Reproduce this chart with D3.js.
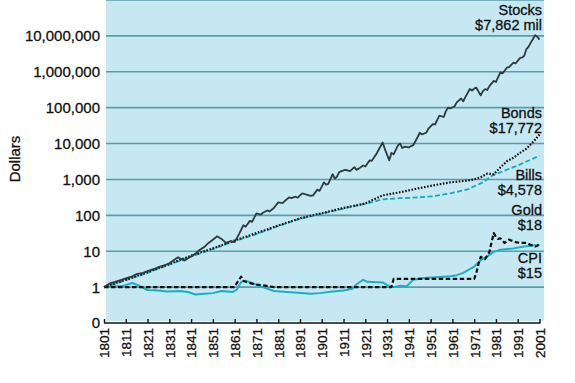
<!DOCTYPE html>
<html>
<head>
<meta charset="utf-8">
<script src="https://cdn.jsdelivr.net/npm/d3@7"></script>
<style>
  html, body { margin: 0; padding: 0; background: #fff; }
  svg { display: block; font-family: "Liberation Sans", Arial, Helvetica, sans-serif; }
</style>
</head>
<body>
<svg id="chart" width="575" height="383"></svg>
<script>
// ---- data (value of $1 invested in 1801) ----
const yearTicks = [1801,1811,1821,1831,1841,1851,1861,1871,1881,1891,1901,1911,1921,1931,1941,1951,1961,1971,1981,1991,2001];
const valueTicks = [0.1, 1, 10, 100, 1000, 10000, 100000, 1000000, 10000000, 100000000];
const valueTickLabels = ["0", "1", "10", "100", "1,000", "10,000", "100,000", "1,000,000", "10,000,000", ""];

const stocks = [
  [1801,1],[1804,1.3],[1806,1.4],[1809,1.6],[1811,1.75],[1814,2.0],[1816,2.3],[1819,2.5],[1821,2.8],
  [1824,3.2],[1826,3.6],[1829,4.1],[1831,4.6],[1833,5.6],[1835,6.8],[1837,5.8],[1838,5.5],[1841,7.2],
  [1843,8.5],[1845,11],[1847,13],[1849,17],[1851,21],[1853,26],[1855,22],[1857,17],[1859,19],[1861,18],
  [1863,30],[1865,53],[1866,48],[1868,70],[1869,66],[1871,113],[1873,105],[1874,118],[1876,137],[1877,128],
  [1879,160],[1881,230],[1883,220],[1884,250],[1886,316],[1887,300],[1889,330],[1890,310],[1892,410],
  [1894,380],[1896,350],[1897,360],[1899,520],[1900,480],[1902,830],[1903,720],[1904,750],[1906,1400],
  [1907,1050],[1908,1200],[1909,1600],[1911,1780],[1912,1850],[1914,1700],[1916,2200],[1917,1850],
  [1918,2000],[1920,2450],[1921,2300],[1923,3400],[1924,3300],[1926,5000],[1927,6500],[1929,10700],
  [1930,7000],[1932,3400],[1933,5500],[1934,5000],[1936,8900],[1937,10000],[1938,7500],[1939,8200],
  [1941,7800],[1942,8500],[1943,9000],[1945,15000],[1946,20000],[1947,18000],[1949,20000],[1950,26000],
  [1952,35000],[1953,34000],[1955,60000],[1957,55000],[1958,80000],[1959,100000],[1960,95000],
  [1962,110000],[1963,140000],[1965,180000],[1966,150000],[1967,200000],[1969,330000],[1970,300000],
  [1971,340000],[1972,360000],[1974,220000],[1975,290000],[1976,330000],[1977,310000],[1978,400000],
  [1980,560000],[1981,520000],[1983,960000],[1984,900000],[1986,1300000],[1987,1350000],[1989,1800000],
  [1990,1700000],[1992,2400000],[1993,2500000],[1994,2800000],[1995,4300000],[1996,5000000],
  [1997,6500000],[1998,8200000],[1999,10500000],[2000,9500000],[2001,7862000]
];
const bonds = [
  [1801,1],[1811,1.6],[1821,2.6],[1831,4.4],[1841,7.5],[1851,12],[1861,20],[1871,32],[1881,52],
  [1891,83],[1901,115],[1911,160],[1921,215],[1929,360],[1937,440],[1945,560],[1952,680],[1960,830],
  [1968,930],[1971,1000],[1974,1150],[1977,1450],[1980,1400],[1983,2150],[1986,3200],[1989,4000],
  [1992,5500],[1995,7200],[1998,11000],[2001,17772]
];
const bills = [
  [1801,1],[1811,1.55],[1821,2.5],[1831,4.2],[1841,7.1],[1851,11.5],[1861,19],[1871,30],[1881,50],
  [1891,80],[1901,110],[1911,155],[1922,215],[1929,280],[1937,300],[1945,315],[1952,340],[1960,410],
  [1968,530],[1975,830],[1979,1250],[1983,1580],[1991,2450],[1998,3800],[2001,4578]
];
const gold = [
  [1801,1],[1861,1],[1862,1.3],[1864,1.95],[1865,1.5],[1867,1.35],[1870,1.2],[1875,1.1],[1879,1],
  [1933,1],[1934,1.69],[1971,1.69],[1972,2.5],[1973,4.5],[1974,7],[1976,6],[1977,7.5],[1978,9.5],
  [1979,18],[1980,32],[1981,25],[1982,22],[1983,23],[1985,17],[1987,21],[1988,20],[1990,18],
  [1992,17],[1995,17],[1997,15],[1999,13.5],[2000,14],[2001,17]
];
const cpi = [
  [1801,1],[1805,1.05],[1809,1.05],[1814,1.3],[1817,1.1],[1821,0.83],[1826,0.8],[1830,0.75],
  [1836,0.78],[1840,0.72],[1843,0.62],[1847,0.65],[1851,0.68],[1855,0.78],[1860,0.73],[1862,0.85],
  [1864,1.4],[1866,1.5],[1869,1.3],[1873,1.05],[1879,0.78],[1885,0.73],[1890,0.7],[1896,0.65],
  [1900,0.68],[1906,0.75],[1911,0.8],[1915,0.9],[1917,1.2],[1920,1.6],[1922,1.4],[1929,1.35],
  [1932,1.05],[1934,1.0],[1937,1.1],[1940,1.05],[1943,1.6],[1948,1.8],[1955,1.9],[1960,2.0],
  [1963,2.15],[1966,2.5],[1971,3.7],[1974,5.6],[1977,7.2],[1980,9.6],[1983,11],[1989,12],
  [1994,13.6],[1998,14.4],[2001,15]
];
const seriesNames = ["Stocks", "Bonds", "Bills", "Gold", "CPI"];
const seriesLabels = ["$7,862 mil", "$17,772", "$4,578", "$18", "$15"];

// ---- layout ----
const svg = d3.select("#chart");
const plot = { left: 106, right: 544, top: 0, bottom: 321 };
const x = d3.scaleLinear().domain([1801, 2001]).range([104, 539.5]);
const y = d3.scaleLog().domain([0.1, 1e8]).range([323, 0]);

// background
svg.append("rect")
  .attr("x", plot.left).attr("y", plot.top)
  .attr("width", plot.right - plot.left).attr("height", plot.bottom - plot.top)
  .attr("fill", "#c6e8f3");

// gridlines
svg.append("g").selectAll("line")
  .data(valueTicks.filter(v => v >= 1))
  .join("line")
  .attr("x1", plot.left).attr("x2", plot.right)
  .attr("y1", d => y(d)).attr("y2", d => y(d))
  .attr("stroke", "#5b9cab").attr("stroke-width", 1.6);

// y labels
svg.append("g").selectAll("text")
  .data(valueTicks.map((v, i) => [v, valueTickLabels[i]]).filter(d => d[1] !== ""))
  .join("text")
  .attr("x", 100).attr("y", d => y(d[0]))
  .attr("dy", "0.36em")
  .attr("text-anchor", "end")
  .attr("font-size", 15)
  .attr("fill", "#111").attr("stroke", "#111").attr("stroke-width", 0.3)
  .text(d => d[1]);

// y title
svg.append("text")
  .attr("transform", "translate(20,159) rotate(-90)")
  .attr("text-anchor", "middle")
  .attr("font-size", 15)
  .attr("fill", "#111").attr("stroke", "#111").attr("stroke-width", 0.3)
  .text("Dollars");

// x axis
const xAxis = d3.axisBottom(x).tickValues(yearTicks).tickSizeInner(-4).tickSizeOuter(0).tickFormat(d3.format("d"));
const gx = svg.append("g").attr("transform", "translate(0,323)").call(xAxis);
gx.select(".domain").attr("stroke", "#111").attr("stroke-width", 1.6).attr("d", `M${x(1801)},0H${x(2001)+1}`);
gx.selectAll(".tick line").attr("stroke", "#111").attr("stroke-width", 1.4);
gx.selectAll(".tick text")
  .attr("font-size", 13.5)
  .attr("font-family", "'Liberation Sans', Arial, sans-serif")
  .attr("fill", "#111").attr("stroke", "#111").attr("stroke-width", 0.3)
  .attr("text-anchor", "end")
  .attr("transform", "rotate(-90)")
  .attr("x", -5).attr("y", 0).attr("dy", "0.36em");

// lines
const line = d3.line().x(d => x(d[0])).y(d => y(d[1]));
const styles = [
  { data: stocks, stroke: "#2e3b3d", width: 1.8, dash: null },
  { data: bonds,  stroke: "#111",    width: 2.2, dash: "1.6,1.6" },
  { data: bills,  stroke: "#1aa8b8", width: 1.8, dash: "5,2.5" },
  { data: gold,   stroke: "#111",    width: 2.2, dash: "4.5,2.5" },
  { data: cpi,    stroke: "#17b1c4", width: 2.0, dash: null }
];
// draw CPI and bills first so black lines sit on top
[4, 2, 3, 1, 0].forEach(i => {
  const s = styles[i];
  svg.append("path")
    .datum(s.data)
    .attr("d", line)
    .attr("fill", "none")
    .attr("stroke", s.stroke)
    .attr("stroke-width", s.width)
    .attr("stroke-linejoin", "round")
    .attr("stroke-dasharray", s.dash);
});

// annotations
const annY = [[15, 30], [118, 133], [180, 195], [215, 230], [263, 278]];
const ann = svg.append("g").attr("font-size", 14.5).attr("fill", "#111")
  .attr("stroke", "#111").attr("stroke-width", 0.3).attr("text-anchor", "end");
seriesNames.forEach((n, i) => {
  ann.append("text").attr("x", 542).attr("y", annY[i][0]).text(n);
  ann.append("text").attr("x", 542).attr("y", annY[i][1]).text(seriesLabels[i]);
});
</script>
</body>
</html>
